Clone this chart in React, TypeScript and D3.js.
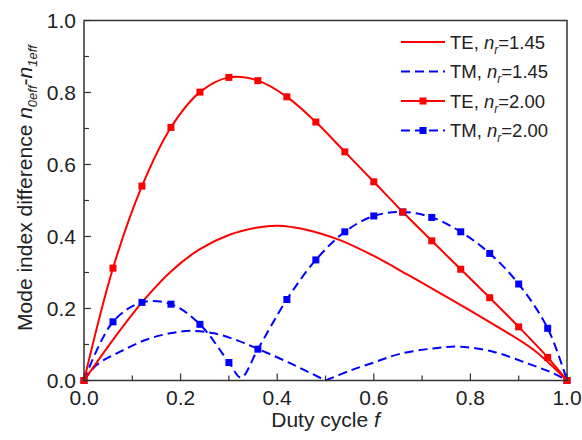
import React from 'react';
import * as d3 from 'd3';

const W = 582;
const H = 440;
const plot = { x0: 84, x1: 567, y0: 380.5, y1: 20.5 };

// TE, n_r = 1.45 (solid, no markers)
const dutyTE145 = [0, 0.06, 0.12, 0.18, 0.24, 0.3, 0.36, 0.4, 0.46, 0.53, 0.6, 0.67, 0.72, 0.79, 0.86, 0.93, 1.0];
const diffTE145 = [0, 0.113, 0.217, 0.303, 0.365, 0.404, 0.425, 0.43, 0.419, 0.39, 0.346, 0.294, 0.256, 0.202, 0.146, 0.086, 0];

// TM, n_r = 1.45 (dashed, no markers) – two lobes meeting at f = 0.5
const dutyTM145 = [0, 0.026, 0.075, 0.13, 0.178, 0.22, 0.27, 0.32, 0.36, 0.43, 0.5, 0.55, 0.6, 0.654, 0.723, 0.778, 0.847, 0.917, 0.972, 1.0];
const diffTM145 = [0, 0.043, 0.08, 0.114, 0.131, 0.138, 0.131, 0.11, 0.088, 0.046, 0, 0.027, 0.05, 0.074, 0.089, 0.094, 0.08, 0.048, 0.02, 0];

// n_r = 2.00 sampled duty cycles (markers)
const dutyN200 = [0, 0.06, 0.12, 0.18, 0.24, 0.3, 0.36, 0.42, 0.48, 0.54, 0.6, 0.66, 0.72, 0.78, 0.84, 0.9, 0.96, 1.0];
const diffTE200 = [0, 0.312, 0.54, 0.703, 0.801, 0.842, 0.833, 0.788, 0.718, 0.635, 0.552, 0.468, 0.388, 0.309, 0.23, 0.149, 0.064, 0];
const diffTM200 = [0, 0.163, 0.217, 0.212, 0.156, 0.05, 0.087, 0.225, 0.335, 0.413, 0.457, 0.468, 0.453, 0.413, 0.353, 0.268, 0.145, 0];

// TM, n_r = 2.00 curve including its minimum near f = 0.325
const dutyTM200Line = [0, 0.06, 0.12, 0.18, 0.24, 0.3, 0.325, 0.36, 0.42, 0.48, 0.54, 0.6, 0.66, 0.72, 0.78, 0.84, 0.9, 0.96, 1.0];
const diffTM200Line = [0, 0.163, 0.217, 0.212, 0.156, 0.05, 0.008, 0.087, 0.225, 0.335, 0.413, 0.457, 0.468, 0.453, 0.413, 0.353, 0.268, 0.145, 0];

const xTicks = [0, 0.2, 0.4, 0.6, 0.8, 1.0];
const yTicks = [0, 0.2, 0.4, 0.6, 0.8, 1.0];
const minorTicks = [0.1, 0.3, 0.5, 0.7, 0.9];

const legendItems = [
  { mode: 'TE', nr: '1.45', color: '#ff0000', dashed: false, marker: false },
  { mode: 'TM', nr: '1.45', color: '#0000ff', dashed: true, marker: false },
  { mode: 'TE', nr: '2.00', color: '#ff0000', dashed: false, marker: true },
  { mode: 'TM', nr: '2.00', color: '#0000ff', dashed: true, marker: true },
];

const FONT = '"Liberation Sans", Arial, Helvetica, sans-serif';
const RED = '#ff0000';
const BLUE = '#0000ff';
const DASH = '9,5';
const TXT = '#222';

const x = d3.scaleLinear().domain([0, 1]).range([plot.x0, plot.x1]);
const y = d3.scaleLinear().domain([0, 1]).range([plot.y0, plot.y1]);

type Pt = [number, number];
const zip = (fs: number[], vs: number[]): Pt[] => fs.map((f, i) => [f, vs[i]]);

const smooth = d3
  .line<Pt>()
  .x((d) => x(d[0]))
  .y((d) => y(d[1]))
  .curve(d3.curveCatmullRom.alpha(0.5));

// split a curve into lobes at its interior zeros, so the cusps stay sharp
function lobes(pts: Pt[]): Pt[][] {
  const out: Pt[][] = [];
  let cur: Pt[] = [];
  pts.forEach((p, i) => {
    cur.push(p);
    if (p[1] === 0 && i > 0 && i < pts.length - 1) {
      out.push(cur);
      cur = [p];
    }
  });
  out.push(cur);
  return out;
}

const MS = 7;

export default function App() {
  const te145 = zip(dutyTE145, diffTE145);
  const tm145 = zip(dutyTM145, diffTM145);
  const te200 = zip(dutyN200, diffTE200);
  const tm200 = zip(dutyN200, diffTM200);
  const tm200Line = zip(dutyTM200Line, diffTM200Line);

  return (
    <svg
      width={W}
      height={H}
      style={{ position: 'absolute', left: 0, top: 0, background: '#fff' }}
      fontFamily={FONT}
    >
      <rect x={0} y={0} width={W} height={H} fill="#fff" />
      <defs>
        <clipPath id="plotClip">
          <rect x={plot.x0 - 4} y={plot.y1} width={plot.x1 - plot.x0 + 8} height={plot.y0 - plot.y1 + 4} />
        </clipPath>
      </defs>

      {/* curves */}
      <g clipPath="url(#plotClip)" fill="none" strokeWidth={2}>
        {lobes(tm145).map((seg, i) => (
          <path key={`tm145-${i}`} d={smooth(seg) || ''} stroke={BLUE} strokeDasharray={DASH} />
        ))}
        <path d={smooth(tm200Line) || ''} stroke={BLUE} strokeDasharray={DASH} />
        <path d={smooth(te145) || ''} stroke={RED} />
        <path d={smooth(te200) || ''} stroke={RED} />
      </g>

      {/* markers */}
      <g clipPath="url(#plotClip)">
        {tm200.map((d, i) => (
          <rect key={`mtm-${i}`} x={x(d[0]) - MS / 2} y={y(d[1]) - MS / 2} width={MS} height={MS} fill={BLUE} />
        ))}
        {te200.map((d, i) => (
          <rect key={`mte-${i}`} x={x(d[0]) - MS / 2} y={y(d[1]) - MS / 2} width={MS} height={MS} fill={RED} />
        ))}
      </g>

      {/* frame */}
      <rect
        x={plot.x0}
        y={plot.y1}
        width={plot.x1 - plot.x0}
        height={plot.y0 - plot.y1}
        fill="none"
        stroke="#333"
        strokeWidth={1.5}
      />

      {/* ticks */}
      <g stroke="#333" strokeWidth={1.2}>
        {xTicks.map((t) => (
          <line key={`xt-${t}`} x1={x(t)} x2={x(t)} y1={plot.y0} y2={plot.y0 - 7} />
        ))}
        {minorTicks.map((t) => (
          <line key={`xm-${t}`} x1={x(t)} x2={x(t)} y1={plot.y0} y2={plot.y0 - 5} />
        ))}
        {yTicks.map((t) => (
          <line key={`yt-${t}`} x1={plot.x0} x2={plot.x0 + 7} y1={y(t)} y2={y(t)} />
        ))}
        {minorTicks.map((t) => (
          <line key={`ym-${t}`} x1={plot.x0} x2={plot.x0 + 5} y1={y(t)} y2={y(t)} />
        ))}
      </g>

      {/* tick labels */}
      <g fontSize={21} fill={TXT}>
        {xTicks.map((t) => (
          <text key={`xl-${t}`} x={x(t)} y={405} textAnchor="middle">
            {d3.format('.1f')(t)}
          </text>
        ))}
        {yTicks.map((t) => (
          <text key={`yl-${t}`} x={76} y={y(t) + 7.5} textAnchor="end">
            {d3.format('.1f')(t)}
          </text>
        ))}
      </g>

      {/* axis titles */}
      <text x={(plot.x0 + plot.x1) / 2} y={427} textAnchor="middle" fontSize={21} fill={TXT}>
        Duty cycle <tspan fontStyle="italic">f</tspan>
      </text>
      <text transform="translate(31.5,188) rotate(-90)" textAnchor="middle" fontSize={21} fill={TXT}>
        <tspan>Mode index difference </tspan>
        <tspan fontStyle="italic">n</tspan>
        <tspan fontStyle="italic" fontSize={13} dy={5}>0eff</tspan>
        <tspan dy={-5}>-</tspan>
        <tspan fontStyle="italic">n</tspan>
        <tspan fontStyle="italic" fontSize={13} dy={5}>1eff</tspan>
      </text>

      {/* legend */}
      <g>
        {legendItems.map((it, i) => {
          const cy = 42 + i * 29.5;
          return (
            <g key={`lg-${i}`}>
              <line
                x1={401}
                x2={445}
                y1={cy}
                y2={cy}
                stroke={it.color}
                strokeWidth={2}
                strokeDasharray={it.dashed ? DASH : undefined}
              />
              {it.marker && (
                <rect x={423 - MS / 2} y={cy - MS / 2} width={MS} height={MS} fill={it.color} />
              )}
              <text x={450} y={cy + 6.5} fontSize={18.5} fill={TXT}>
                {it.mode}, <tspan fontStyle="italic">n</tspan>
                <tspan fontStyle="italic" fontSize={12} dy={5}>r</tspan>
                <tspan dy={-5}>={it.nr}</tspan>
              </text>
            </g>
          );
        })}
      </g>
    </svg>
  );
}
